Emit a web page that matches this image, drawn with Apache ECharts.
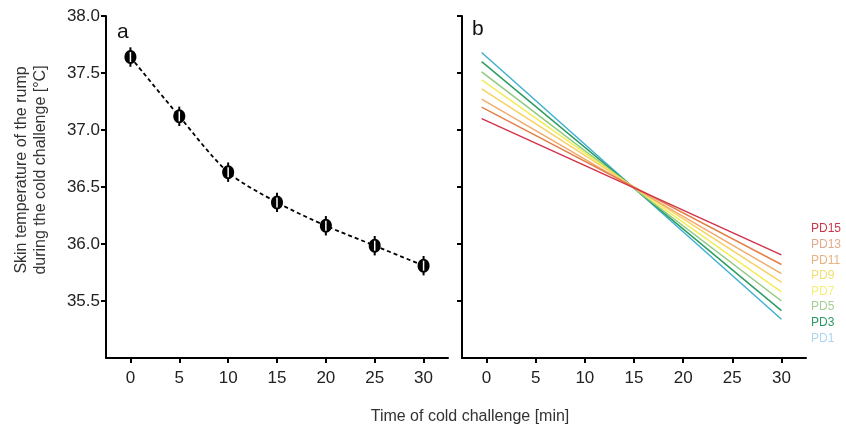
<!DOCTYPE html>
<html>
<head>
<meta charset="utf-8">
<script src="https://cdn.jsdelivr.net/npm/echarts@6/dist/echarts.min.js"></script>
<style>
  html, body { margin: 0; padding: 0; background: #fff; }
  #chart { width: 846px; height: 436px; }
</style>
</head>
<body>
<div id="chart"></div>
<script>
// panel a: mean skin temperature (+/- error) over the cold challenge
const timeMin = [0, 5, 10, 15, 20, 25, 30];
const meanTemp = [37.64, 37.12, 36.63, 36.365, 36.16, 35.985, 35.81];
const errTemp = [0.085, 0.085, 0.085, 0.085, 0.085, 0.085, 0.085];

// panel b: fitted slopes per day
const lineX = [-0.5, 30];
const pdNames = ['PD1', 'PD3', 'PD5', 'PD7', 'PD9', 'PD11', 'PD13', 'PD15'];
const pdStart = [37.68, 37.60, 37.51, 37.44, 37.36, 37.27, 37.20, 37.10];
const pdEnd = [35.34, 35.415, 35.50, 35.58, 35.665, 35.74, 35.82, 35.905];
const pdLineColors = ['#3fb0d2', '#2f9c63', '#8fca7f', '#f3ec58', '#f6d163', '#f1ab6c', '#e2814a', '#d2334a'];
const pdTextColors = ['#aed6ee', '#2a9a60', '#a6cf96', '#f6f07a', '#f3de72', '#e8b284', '#e2a98c', '#c8384a'];

const xTicks = [0, 5, 10, 15, 20, 25, 30];
const yTicks = [35.5, 36.0, 36.5, 37.0, 37.5, 38.0];

const font = 'Liberation Sans, Arial, sans-serif';

const chart = echarts.init(document.getElementById('chart'));

function xAxisFor(gridIndex) {
  return {
    type: 'value',
    gridIndex,
    min: -2.5,
    max: 32.5,
    axisLine: { onZero: false, lineStyle: { color: '#000', width: 2 } },
    axisTick: { show: true, length: 5, customValues: xTicks, lineStyle: { color: '#000', width: 2 } },
    axisLabel: { customValues: xTicks, color: '#222', fontSize: 17, fontFamily: font, margin: 12 },
    splitLine: { show: false },
  };
}

function yAxisFor(gridIndex, showLabels) {
  return {
    type: 'value',
    gridIndex,
    min: 35,
    max: 38,
    axisLine: { show: true, onZero: false, lineStyle: { color: '#000', width: 2 } },
    axisTick: { show: true, length: 5, customValues: yTicks, lineStyle: { color: '#000', width: 2 } },
    axisLabel: {
      show: showLabels,
      customValues: yTicks,
      color: '#222',
      fontSize: 17,
      fontFamily: font,
      margin: 6,
      formatter: (v) => v.toFixed(1),
    },
    splitLine: { show: false },
  };
}

const pdSeries = pdNames.map((name, i) => ({
  name,
  type: 'line',
  xAxisIndex: 1,
  yAxisIndex: 1,
  data: [[lineX[0], pdStart[i]], [lineX[1], pdEnd[i]]],
  showSymbol: false,
  symbol: 'none',
  lineStyle: { color: pdLineColors[i], width: 1.5 },
  itemStyle: { color: pdLineColors[i] },
  z: 2 + i,
}));

chart.setOption({
  animation: false,
  backgroundColor: '#fff',
  grid: [
    { left: 106, top: 16, width: 342, height: 342 },
    { left: 462, top: 16, width: 344, height: 342 },
  ],
  xAxis: [xAxisFor(0), xAxisFor(1)],
  yAxis: [yAxisFor(0, true), yAxisFor(1, false)],
  legend: {
    orient: 'vertical',
    left: 806,
    top: 222,
    padding: 0,
    itemWidth: 0,
    itemHeight: 14,
    itemGap: 2.6,
    selectedMode: false,
    data: pdNames.slice().reverse().map((name) => ({
      name,
      icon: 'none',
      textStyle: { color: pdTextColors[pdNames.indexOf(name)], fontSize: 12, fontFamily: font },
    })),
  },
  graphic: [
    {
      type: 'text',
      left: 117, top: 22,
      style: { text: 'a', fontSize: 21, fontFamily: font, fill: '#111' },
    },
    {
      type: 'text',
      left: 472, top: 19,
      style: { text: 'b', fontSize: 21, fontFamily: font, fill: '#111' },
    },
    {
      type: 'text',
      x: 31, y: 170,
      rotation: Math.PI / 2,
      style: {
        text: 'Skin temperature of the rump\nduring the cold challenge [°C]',
        fontSize: 16,
        lineHeight: 19,
        fontFamily: font,
        fill: '#333',
        align: 'center',
        verticalAlign: 'middle',
      },
    },
    {
      type: 'text',
      x: 470, y: 417,
      style: {
        text: 'Time of cold challenge [min]',
        fontSize: 16,
        fontFamily: font,
        fill: '#333',
        align: 'center',
        verticalAlign: 'middle',
      },
    },
  ],
  series: [
    {
      type: 'line',
      xAxisIndex: 0,
      yAxisIndex: 0,
      data: timeMin.map((t, i) => [t, meanTemp[i]]),
      smooth: 0.3,
      showSymbol: false,
      symbol: 'none',
      lineStyle: { color: '#000', width: 1.8, type: [4, 3] },
      z: 2,
    },
    {
      type: 'custom',
      xAxisIndex: 0,
      yAxisIndex: 0,
      data: timeMin.map((t, i) => [t, meanTemp[i], errTemp[i]]),
      encode: { x: 0, y: 1 },
      z: 3,
      renderItem(params, api) {
        const x = api.value(0);
        const y = api.value(1);
        const e = api.value(2);
        const top = api.coord([x, y + e]);
        const bot = api.coord([x, y - e]);
        const c = api.coord([x, y]);
        return {
          type: 'group',
          children: [
            { type: 'line', shape: { x1: top[0], y1: top[1], x2: bot[0], y2: bot[1] }, style: { stroke: '#000', lineWidth: 2 } },
            { type: 'ellipse', shape: { cx: c[0], cy: c[1], rx: 6, ry: 7 }, style: { fill: '#000' } },
            { type: 'line', shape: { x1: c[0], y1: c[1] - 5, x2: c[0], y2: c[1] + 5 }, style: { stroke: '#fff', lineWidth: 1.5 } },
          ],
        };
      },
    },
    ...pdSeries,
  ],
});
</script>
</body>
</html>
